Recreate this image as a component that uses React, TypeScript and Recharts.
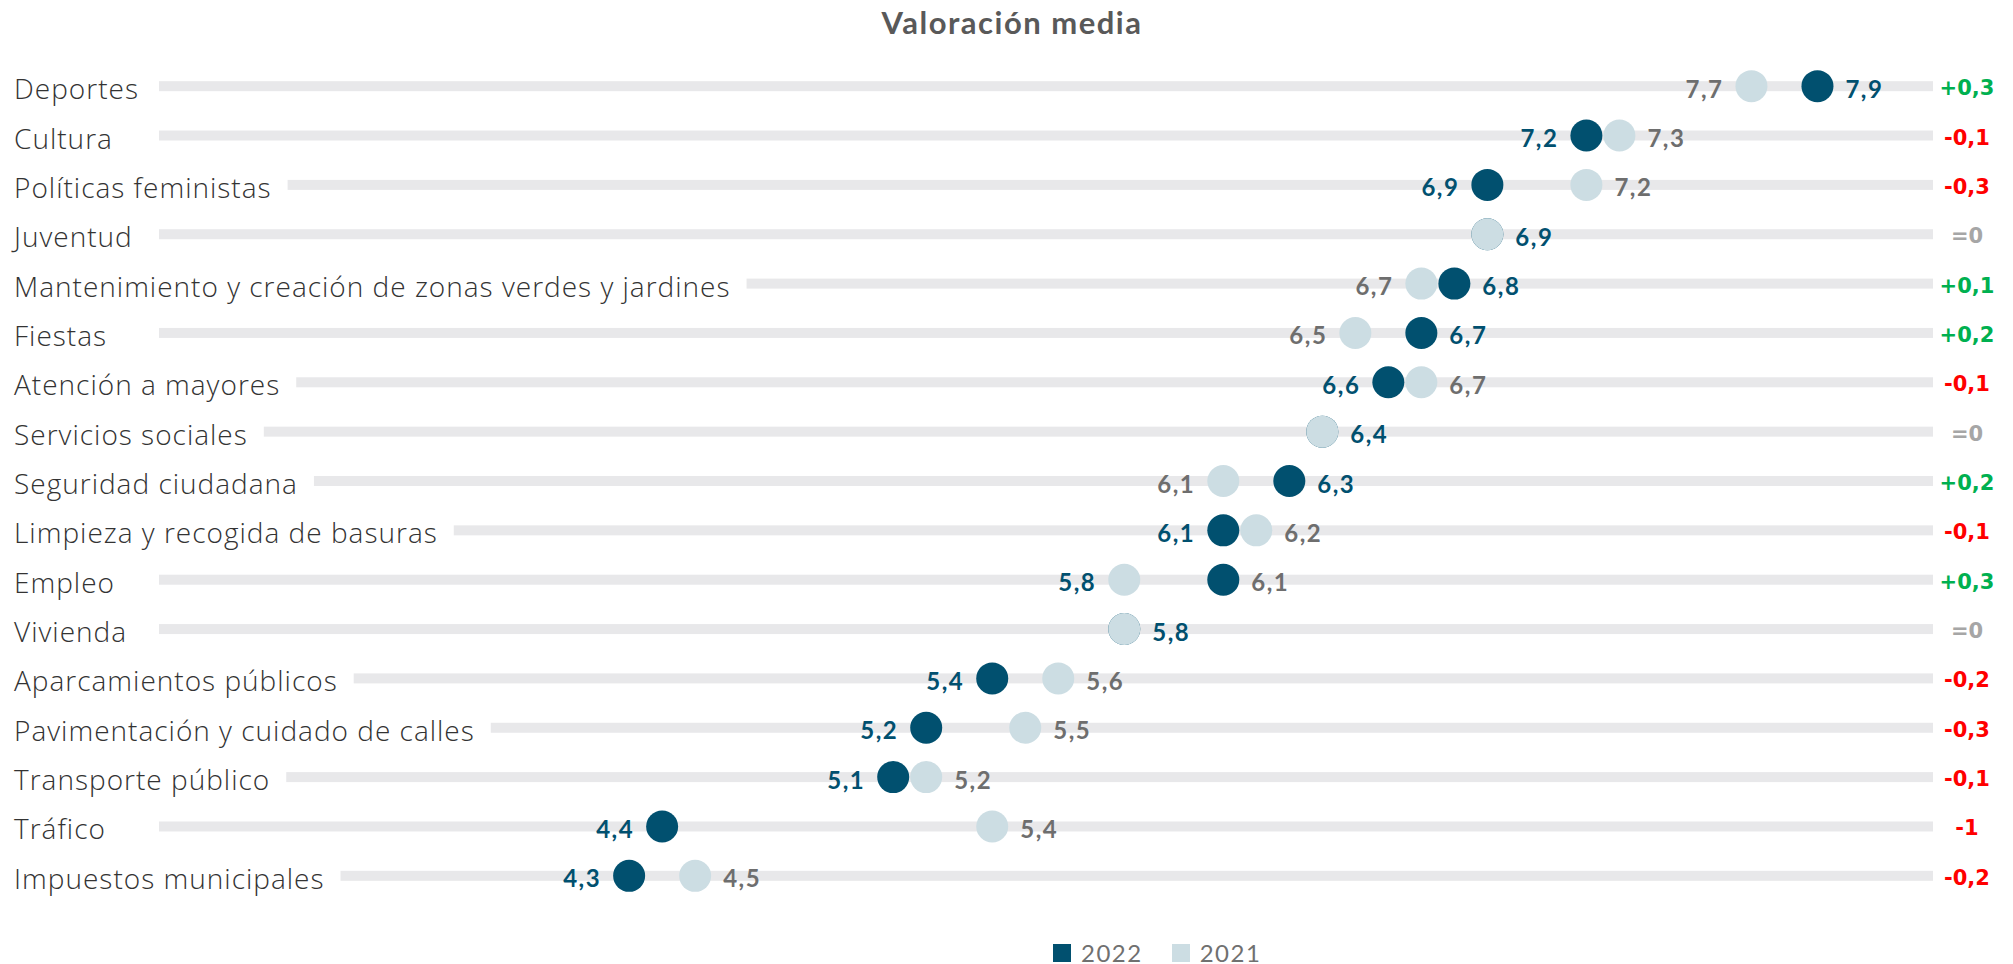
import React from "react";
import { ScatterChart, Scatter, XAxis, YAxis, Legend } from "recharts";

const categories = [
  "Deportes",
  "Cultura",
  "Políticas feministas",
  "Juventud",
  "Mantenimiento y creación de zonas verdes y jardines",
  "Fiestas",
  "Atención a mayores",
  "Servicios sociales",
  "Seguridad ciudadana",
  "Limpieza y recogida de basuras",
  "Empleo",
  "Vivienda",
  "Aparcamientos públicos",
  "Pavimentación y cuidado de calles",
  "Transporte público",
  "Tráfico",
  "Impuestos municipales",
];
const values2022 = [7.9, 7.2, 6.9, 6.9, 6.8, 6.7, 6.6, 6.4, 6.3, 6.1, 6.1, 5.8, 5.4, 5.2, 5.1, 4.4, 4.3];
const values2021 = [7.7, 7.3, 7.2, 6.9, 6.7, 6.5, 6.7, 6.4, 6.1, 6.2, 5.8, 5.8, 5.6, 5.5, 5.2, 5.4, 4.5];
const changeLabels = ["+0,3", "-0,1", "-0,3", "=0", "+0,1", "+0,2", "-0,1", "=0", "+0,2", "-0,1", "+0,3", "=0", "-0,2", "-0,3", "-0,1", "-1", "-0,2"];
// rows where the source chart printed the value labels in the other series' colour
const swappedLabelRows = ["Empleo"];
const seriesOrder = ["2022", "2021"];
const rowTicks = categories.map((_, i) => i);

const DARK = "#01506F";
const LIGHT = "#CCDDE3";
const GREY_LABEL = "#6E6E6E";
const TRACK = "#E8E8EA";

const CHART_W = 1997;
const CHART_H = 956;
const MARGIN = { top: 53.5, right: 72, bottom: 41.5, left: 0 };
const AXIS_W = 192;
const X_DOMAIN: [number, number] = [3, 8.25];
const PLOT_RIGHT = CHART_W - MARGIN.right;
const LABEL_X = 6;
const LABEL_SIZE = 28;
const LABEL_SPACING = 1;
const TRACK_MIN_X = 151;
const DIFF_X = 1959;
const DOT_R = 16;

let ctx: CanvasRenderingContext2D | null = null;
function labelWidth(s: string) {
  if (!ctx) ctx = document.createElement("canvas").getContext("2d");
  if (!ctx) return s.length * 14;
  ctx.font = `300 ${LABEL_SIZE}px "Open Sans"`;
  return ctx.measureText(s).width + s.length * LABEL_SPACING;
}

const fmt = (v: number) => v.toFixed(1).replace(".", ",");

function changeColor(s: string) {
  if (s.startsWith("+")) return "#00B050";
  if (s.startsWith("=")) return "#A6A6A6";
  return "#FF0000";
}

function buildSeries(own: number[], other: number[], isNew: boolean) {
  return own.map((v, i) => {
    const o = other[i];
    let side = 0;
    if (isNew) side = v >= o ? 1 : -1;
    else side = v > o ? 1 : v < o ? -1 : 0;
    const swapped = swappedLabelRows.includes(categories[i]);
    const dark = isNew !== swapped;
    return { x: v, y: i, label: fmt(v), side, labelColor: dark ? DARK : GREY_LABEL };
  });
}

const data2022 = buildSeries(values2022, values2021, true);
const data2021 = buildSeries(values2021, values2022, false);
const trackData = rowTicks.map((i) => ({ x: X_DOMAIN[0], y: i }));

function TrackShape(props: any) {
  const { cy, payload } = props;
  const name = categories[payload.y];
  const start = Math.max(TRACK_MIN_X, LABEL_X + labelWidth(name) + 16);
  return <rect x={start} y={cy - 5} width={PLOT_RIGHT - start} height={10} fill={TRACK} />;
}

function CategoryTick(props: any) {
  const { y, payload } = props;
  const i = payload.value as number;
  const name = categories[i];
  if (name === undefined) return null;
  const diff = changeLabels[i];
  return (
    <g>
      <text
        x={LABEL_X}
        y={y}
        dy={2}
        dominantBaseline="central"
        fontFamily="Open Sans"
        fontWeight={300}
        fontSize={LABEL_SIZE}
        letterSpacing={LABEL_SPACING}
        fill="#333333"
      >
        {name}
      </text>
      <text
        x={DIFF_X}
        y={y}
        dy={2}
        textAnchor="middle"
        dominantBaseline="central"
        fontFamily="DejaVu Sans"
        fontWeight={700}
        fontSize={21}
        fill={changeColor(diff)}
      >
        {diff}
      </text>
    </g>
  );
}

function makeDot(fill: string) {
  return (props: any) => {
    const { cx, cy, payload } = props;
    const side = payload.side;
    return (
      <g>
        <circle cx={cx} cy={cy} r={DOT_R} fill={fill} />
        {side !== 0 && (
          <text
            x={cx + side * 28}
            y={cy}
            dy={2}
            textAnchor={side > 0 ? "start" : "end"}
            dominantBaseline="central"
            fontFamily="Lato"
            fontWeight={700}
            fontSize={24}
            letterSpacing={1.5}
            fill={payload.labelColor}
          >
            {payload.label}
          </text>
        )}
      </g>
    );
  };
}

function LegendContent(props: any) {
  const items = (props.payload || [])
    .filter((it: any) => seriesOrder.includes(it.value))
    .sort((a: any, b: any) => seriesOrder.indexOf(a.value) - seriesOrder.indexOf(b.value));
  return (
    <div style={{ display: "flex", alignItems: "center", height: 22, gap: 29 }}>
      {items.map((it: any) => (
        <div key={it.value} style={{ display: "flex", alignItems: "center", gap: 10 }}>
          <span style={{ width: 18, height: 18, background: it.color, display: "inline-block" }} />
          <span style={{ fontFamily: "Lato", fontSize: 24, color: "#707070", letterSpacing: 1.5, lineHeight: "22px" }}>
            {it.value}
          </span>
        </div>
      ))}
    </div>
  );
}

export default function App() {
  return (
    <div style={{ position: "relative", width: CHART_W, height: CHART_H }}>
      <div
        style={{
          position: "absolute",
          left: 804,
          top: 0,
          width: 400,
          textAlign: "center",
          fontFamily: "Lato",
          fontWeight: 700,
          fontSize: 31,
          letterSpacing: 1.5,
          lineHeight: "28px",
          color: "#595959",
        }}
      >
        Valoración media
      </div>
      <ScatterChart width={CHART_W} height={CHART_H} margin={MARGIN}>
        <XAxis type="number" dataKey="x" domain={X_DOMAIN} hide />
        <YAxis
          type="number"
          dataKey="y"
          domain={[-0.5, 16.5]}
          reversed
          ticks={rowTicks}
          interval={0}
          width={AXIS_W}
          axisLine={false}
          tickLine={false}
          tick={<CategoryTick />}
        />
        <Legend
          verticalAlign="bottom"
          content={<LegendContent />}
          wrapperStyle={{ left: 1045, bottom: 0, width: 240 }}
        />
        <Scatter name="track" data={trackData} legendType="none" shape={TrackShape} isAnimationActive={false} />
        <Scatter name="2022" data={data2022} fill={DARK} shape={makeDot(DARK)} isAnimationActive={false} />
        <Scatter name="2021" data={data2021} fill={LIGHT} shape={makeDot(LIGHT)} isAnimationActive={false} />
      </ScatterChart>
    </div>
  );
}
